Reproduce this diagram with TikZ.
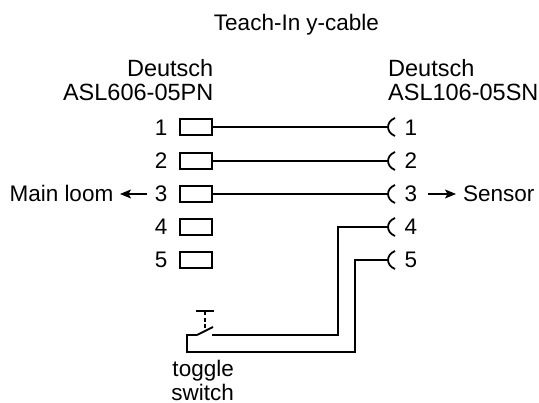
\documentclass[tikz,border=0pt]{standalone}
\usepackage{fontspec}
\setmainfont{Liberation Sans}
\usetikzlibrary{arrows.meta,calc}
\tikzset{
  x=1pt,y=-1pt,
  lab/.style={inner sep=0pt,font=\fontsize{22.5}{24}\selectfont},
  head/.style={inner sep=0pt,font=\fontsize{23.5}{23.5}\selectfont},
  wire/.style={line width=1.8pt},
  pin/.style={draw,line width=1.8pt,minimum width=32pt,minimum height=15.5pt,inner sep=0pt,outer sep=0pt},
  arr/.style={line width=1.4pt,-{Stealth[length=11pt,width=9pt,inset=2.5pt]}}
}
\begin{document}
\begin{tikzpicture}
\useasboundingbox (0,0) rectangle (539,403);
\fill[white] (0,0) rectangle (539,403);
\node[lab,anchor=base] (title) at (296.5,31) {Teach-In y-cable};
\node[head,anchor=east,align=right] (lh) at (213.5,80) {Deutsch\\ASL606-05PN};
\node[head,anchor=west,align=left] (rh) at (388,80) {Deutsch\\ASL106-05SN};
\foreach \i/\y/\b in {1/127/135.5,2/161/169,3/194/202,4/227/235,5/260/268}{
  \node[pin] (p\i) at (196,\y) {};
  \node[lab,anchor=base east] (ln\i) at (167.5,\b) {\i};
  \coordinate (s\i) at (388,\y);
  \node[lab,anchor=base west] (rn\i) at (404.5,\b) {\i};
  \draw[wire] ($(s\i)+(7,-9)$) .. controls ($(s\i)+(-2.3,-5)$) and ($(s\i)+(-2.3,5)$) .. ($(s\i)+(7,9)$);
}
\foreach \i in {1,2,3}{\draw[wire] (p\i.east) -- (s\i);}
\node[lab,anchor=base east] (ml) at (113.5,202) {Main loom};
\coordinate (al) at (147,194);
\coordinate (ae) at (120,194);
\draw[arr] (al) -- (ae);
\coordinate (bs) at (428,194);
\coordinate (be) at (456,194);
\draw[arr] (bs) -- (be);
\node[lab,anchor=base west] (sn) at (463,202) {Sensor};
\coordinate (ta) at (196,311.3);
\coordinate (tb) at (214,311.3);
\coordinate (tm) at (204.7,311.3);
\coordinate (tn) at (204.7,330);
\draw[wire,line width=2.2pt] (ta) -- (tb);
\draw[wire,line width=2.2pt,dash pattern=on 4pt off 2.5pt] (tm) -- (tn);
\coordinate (b1) at (187,352);
\coordinate (b2) at (355,352);
\coordinate (sw) at (197,335);
\coordinate (bl) at (213,327);
\coordinate (b0) at (187,335);
\draw[wire] (sw) -- (bl);
\draw[wire] (sw) -- (b0) -- (b1) -- (b2) |- (s5);
\coordinate (c1) at (212,335);
\coordinate (c2) at (338,335);
\draw[wire] (c1) -- (c2) |- (s4);
\node[lab,anchor=east,align=right] (tog) at (234,380) {toggle\\switch};
\end{tikzpicture}
\end{document}
